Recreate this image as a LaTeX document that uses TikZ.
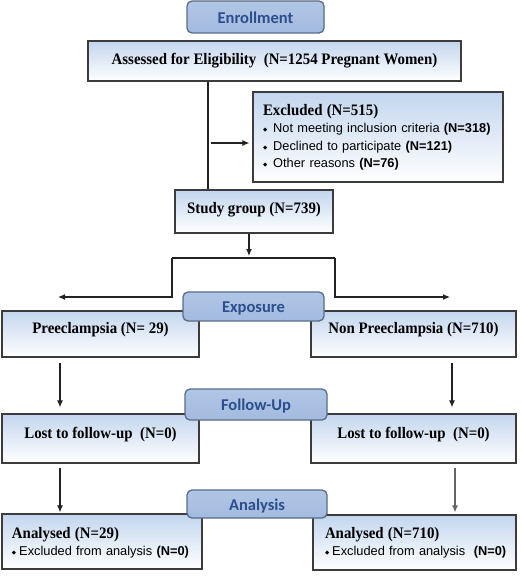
\documentclass[tikz,border=0pt]{standalone}
\usepackage{fontspec}
\setmainfont{Liberation Serif}[FakeStretch=0.93]
\setsansfont{Liberation Sans}
\newfontfamily\carlito{Carlito}
\newfontfamily\dejavu{DejaVu Sans}
\usetikzlibrary{arrows.meta,calc}
\definecolor{boxblue}{HTML}{C3D6EE}
\definecolor{boxline}{HTML}{3C3C3C}
\definecolor{labfill}{HTML}{A3BBDF}
\definecolor{labtop}{HTML}{B0C6E6}
\definecolor{labline}{HTML}{5A6B85}
\definecolor{labtext}{HTML}{2C4E8C}
\definecolor{conncol}{HTML}{222222}
\newcommand{\serb}{\fontsize{16}{17.5}\selectfont\rmfamily\bfseries}
\newcommand{\sanstext}{\fontsize{12.8}{17.5}\selectfont\sffamily}
\newcommand{\dia}{{\dejavu\fontsize{5.5}{5.5}\selectfont\raisebox{1pt}{◆}}}
\newcommand{\bul}[1]{\mbox{\dia\hspace{6pt}#1}}
\newcommand{\bulb}[1]{\mbox{\dia\hspace{3pt}#1}}
\newcommand{\bn}[1]{\textbf{#1}}
\tikzset{
  box/.style={draw=boxline, line width=1.3pt, top color=boxblue, bottom color=white, inner sep=0pt, font=\serb},
  lbox/.style={box, align=left, font=\sanstext},
  lab/.style={draw=labline, line width=1.3pt, rounded corners=5pt, top color=labtop, bottom color=labfill,
              text=labtext, font={\carlito\bfseries\fontsize{16.5}{18}\selectfont}, inner sep=0pt,
              text height=12pt, text depth=0pt},
  conn/.style={draw=conncol, line width=1.1pt},
  arr/.style={conn, -{Latex[length=7pt,width=6pt]}},
}
\begin{document}
\begin{tikzpicture}[x=1pt,y=-1pt]
\useasboundingbox[fill=white] (0,0) rectangle (522,576);
% boxes
\node[box, minimum width=373pt, minimum height=40pt, text height=23pt, text depth=17pt] (assess) at (274.5,61)
  {Assessed for Eligibility\ \ (N=1254 Pregnant Women)};
\node[lbox, minimum width=250pt, minimum height=90pt, text width=230pt, inner xsep=10pt, text height=23pt, text depth=67pt] (excl) at (378,137)
  {{\serb Excluded (N=515)}\\
   \bul{Not meeting inclusion criteria \bn{(N=318)}}\\
   \bul{Declined to participate \bn{(N=121)}}\\
   \bul{Other reasons \bn{(N=76)}}};
\node[box, minimum width=158pt, minimum height=43pt, text height=23pt, text depth=20pt] (study) at (254,211.5)
  {Study group (N=739)};
\node[box, minimum width=197pt, minimum height=46pt, text height=22pt, text depth=24pt] (pre) at (100.5,334)
  {Preeclampsia (N= 29)};
\node[box, minimum width=205pt, minimum height=46pt, text height=22pt, text depth=24pt] (nonpre) at (413.5,334)
  {Non Preeclampsia (N=710)};
\node[box, minimum width=197pt, minimum height=49pt, text height=24pt, text depth=25pt] (lostL) at (100.5,438.5)
  {Lost to follow-up\ \ (N=0)};
\node[box, minimum width=205pt, minimum height=49pt, text height=24pt, text depth=25pt] (lostR) at (413.5,438.5)
  {Lost to follow-up\ \ (N=0)};
\node[lbox, minimum width=200pt, minimum height=55pt, text width=180pt, inner xsep=10pt, text height=24pt, text depth=31pt] (anL) at (102,541.5)
  {{\serb Analysed (N=29)}\\
   \bulb{Excluded from analysis \bn{(N=0)}}};
\node[lbox, minimum width=203pt, minimum height=55pt, text width=179pt, inner xsep=12pt, text height=23pt, text depth=32pt] (anR) at (414.5,542.5)
  {{\serb Analysed (N=710)}\\
   \bulb{Excluded from analysis\ \ \bn{(N=0)}}};
% labels
\node[lab, minimum width=137pt, minimum height=32pt] (enroll) at (255.5,17) {Enrollment};
\node[lab, minimum width=141pt, minimum height=29pt] (expo) at (253.5,306.5) {Exposure};
\node[lab, minimum width=142pt, minimum height=31pt] (follow) at (256,404.5) {Follow-Up};
\node[lab, minimum width=140pt, minimum height=28pt] (anal) at (257,504) {Analysis};
% connectors
\coordinate (v1) at (208,0);
\draw[conn] (assess.south -| v1) -- (study.north -| v1);
\coordinate (ea) at (211,143);
\draw[arr, shorten >=3pt] (ea) -- (ea -| excl.west);
\coordinate (s1) at (249,0);
\coordinate (bl) at (172,258);
\coordinate (br) at (335,258);
\coordinate (pa) at (58,297);
\coordinate (pb) at (450,297);
\draw[arr, shorten >=2pt] (study.south -| s1) -- (bl -| s1);
\draw[conn] (bl) -- (br);
\draw[arr] (bl) |- (pa);
\draw[arr] (br) |- (pb);
\coordinate (xl) at (60,0);
\coordinate (xr) at (452,0);
\coordinate (xr2) at (455,0);
\draw[arr, shorten <=5pt, shorten >=6pt] (pre.south -| xl) -- (lostL.north -| xl);
\draw[arr, shorten <=5pt, shorten >=6pt] (nonpre.south -| xr) -- (lostR.north -| xr);
\draw[arr, shorten <=4pt, shorten >=1pt] (lostL.south -| xl) -- (anL.north -| xl);
\draw[arr, draw=gray!80!black, fill=gray!80!black, shorten <=4pt, shorten >=2pt] (lostR.south -| xr2) -- (anR.north -| xr2);
\end{tikzpicture}
\end{document}
